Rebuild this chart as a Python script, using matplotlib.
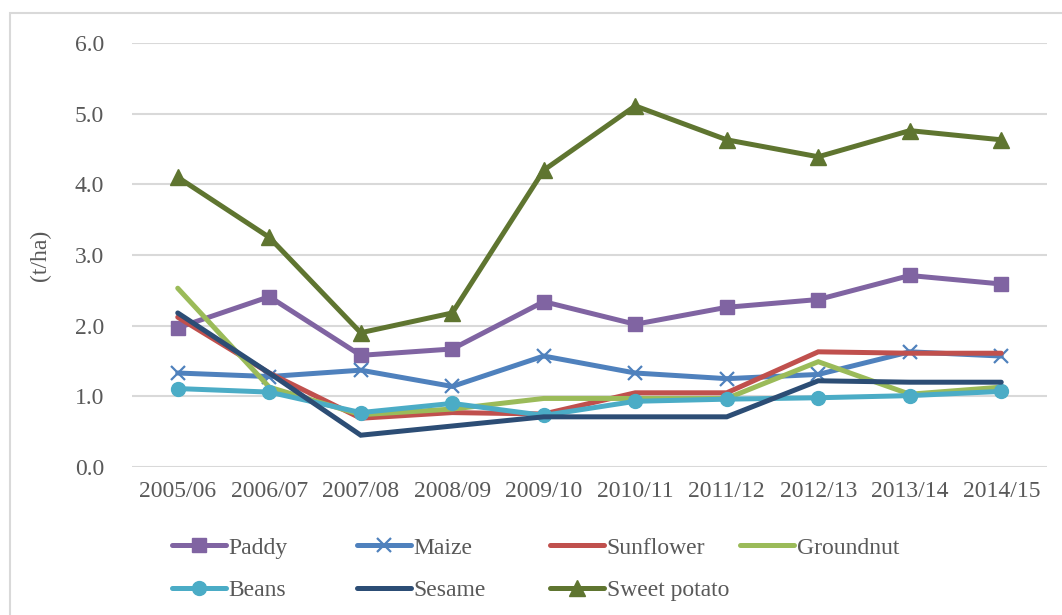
import matplotlib.pyplot as plt
from matplotlib.patches import Rectangle

seasons = ["2005/06", "2006/07", "2007/08", "2008/09", "2009/10",
           "2010/11", "2011/12", "2012/13", "2013/14", "2014/15"]

paddy = [1.97, 2.41, 1.58, 1.67, 2.34, 2.02, 2.26, 2.37, 2.71, 2.59]
maize = [1.33, 1.28, 1.37, 1.14, 1.57, 1.33, 1.25, 1.31, 1.63, 1.57]
sunflower = [2.12, 1.33, 0.69, 0.77, 0.75, 1.05, 1.05, 1.63, 1.61, 1.61]
groundnut = [2.53, 1.13, 0.74, 0.82, 0.97, 0.97, 0.97, 1.49, 1.03, 1.13]
beans = [1.11, 1.06, 0.77, 0.90, 0.73, 0.93, 0.96, 0.98, 1.01, 1.07]
sesame = [2.18, 1.33, 0.45, 0.58, 0.71, 0.71, 0.71, 1.22, 1.20, 1.20]
sweet_potato = [4.10, 3.25, 1.90, 2.18, 4.20, 5.11, 4.63, 4.39, 4.76, 4.63]

crops = [
    ("Paddy", paddy, "#8064A2", "s"),
    ("Maize", maize, "#4F81BD", "x"),
    ("Sunflower", sunflower, "#C0504D", None),
    ("Groundnut", groundnut, "#9BBB59", None),
    ("Beans", beans, "#4BACC6", "o"),
    ("Sesame", sesame, "#2C4D75", None),
    ("Sweet potato", sweet_potato, "#5F7530", "^"),
]

plt.rcParams["font.family"] = ["Liberation Serif", "DejaVu Serif"]
txt = "#595959"

fig = plt.figure(figsize=(10.62, 6.15), dpi=100)
ax = fig.add_axes([132 / 1062, 1 - 467 / 615, 915 / 1062, 424 / 615])

x = list(range(len(seasons)))
lines = []
for name, vals, col, mk in crops:
    ms = {"s": 10, "x": 10, "o": 10, "^": 11}.get(mk, 0)
    ln, = ax.plot(x, vals, color=col, lw=3.6, marker=mk, ms=ms,
                  mew=1.6 if mk == "x" else 1, label=name,
                  solid_joinstyle="miter", solid_capstyle="round")
    lines.append(ln)

ax.set_xlim(-0.5, len(seasons) - 0.5)
ax.set_ylim(0, 6)
ax.set_yticks([0, 1, 2, 3, 4, 5, 6])
ax.set_yticklabels([f"{v:.1f}" for v in range(7)])
ax.set_xticks(x)
ax.set_xticklabels(seasons)
ax.tick_params(length=0, labelsize=17, colors=txt, pad=10)
ax.tick_params(axis="y", pad=20)
ax.grid(axis="y", color="#D9D9D9", lw=1.5)
ax.set_axisbelow(True)
for s in ax.spines.values():
    s.set_visible(False)
ax.set_ylabel("(t/ha)", fontsize=17, color=txt, labelpad=17)

# legend laid out as fixed-width columns, two rows
col_x = [172, 357, 550, 740]
for i, cx in enumerate(col_x):
    hs = [lines[j] for j in (i, i + 4) if j < len(lines)]
    leg = fig.legend(handles=hs, loc="upper left",
                     bbox_to_anchor=(cx / 1062, 1 - 537 / 615),
                     frameon=False, fontsize=17, labelcolor=txt,
                     borderpad=0, borderaxespad=0,
                     handlelength=2.3, handletextpad=0.1, labelspacing=0.9)

# thin chart border
fig.patches.append(Rectangle((10 / 1062, -0.05), 1.1, 1 - 13 / 615 + 0.05,
                             transform=fig.transFigure, fill=False,
                             edgecolor="#D9D9D9", lw=1.5))

fig.savefig("out.png", dpi=100)
